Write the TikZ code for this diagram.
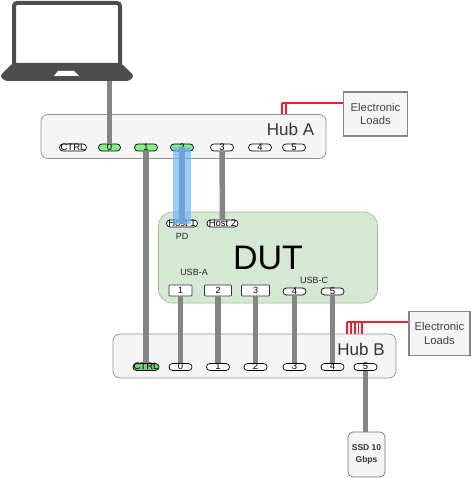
\documentclass[tikz,border=0pt]{standalone}
\usepackage{fontspec}
\setmainfont{Liberation Sans}
\usepackage{xcolor}
\usetikzlibrary{arrows.meta,positioning,calc}
\definecolor{hubfill}{HTML}{F5F5F5}
\definecolor{hubline}{HTML}{909090}
\definecolor{dutfill}{HTML}{D5E8D4}
\definecolor{dutline}{HTML}{9CC28C}
\definecolor{laptopgray}{HTML}{4D4D4D}
\definecolor{cablegray}{HTML}{858585}
\definecolor{portgreen}{HTML}{88F088}
\definecolor{loadred}{HTML}{F02030}
\definecolor{bandblue}{HTML}{66B2FF}

\begin{document}
\begin{tikzpicture}[
  x=1pt, y=-1pt,
  hub/.style={rectangle, draw=hubline, line width=0.7pt, fill=hubfill, rounded corners=7pt, minimum width=#1, minimum height=44pt, inner sep=0pt},
  port/.style={rectangle, draw=black, line width=0.7pt, fill=white, rounded corners=3.4pt, minimum width=#1, minimum height=7pt,
               inner sep=0pt, text height=5.5pt, text depth=0pt, font=\fontsize{9.5}{10}\selectfont, text=black},
  port/.default=23pt,
  sq/.style={rectangle, draw=black!80, line width=0.7pt, fill=white, rounded corners=0.8pt, minimum width=#1, minimum height=11pt,
             inner sep=0pt, font=\fontsize{9}{10}\selectfont},
  loads/.style={rectangle, draw=cablegray, line width=1.3pt, fill=hubfill, minimum width=#1, minimum height=44pt,
                inner sep=0pt, align=center, font=\fontsize{11.3}{13.5}\selectfont, text=black!75},
  cable/.style={draw=cablegray, line width=5.5pt},
  redline/.style={draw=loadred, line width=1.2pt},
  small/.style={inner sep=0pt, font=\fontsize{9}{10}\selectfont, text=black!85},
]
  \useasboundingbox (0,0) rectangle (470,478);

  % Laptop
  \draw[laptopgray, line width=4pt, fill=white, rounded corners=3pt] (14,66) -- (14,3) -- (120,3) -- (120,66);
  \fill[laptopgray, rounded corners=2.5pt] (13,63) -- (121,63) -- (134,76) -- (129,81) -- (5,81) -- (0,76) -- cycle;
  \fill[white] (58,71) -- (74,71) -- (79,76) -- (54,76) -- cycle;
  \coordinate (laptop) at (109.5,81);

  % Hub A
  \node[hub=285pt] (huba) at (183.5,136.5) {};
  \node[font=\fontsize{17}{20}\selectfont, text=black!80, inner sep=0pt] (hubalabel) at (290.5,129) {Hub A};
  \node[port=27pt] (actrl) at (73,147.5) {CTRL};
  \node[port=22pt, fill=portgreen] (a0) at (109.5,147.5) {0};
  \node[port, fill=portgreen] (a1) at (146,147.5) {1};
  \node[port, fill=portgreen] (a2) at (182,147.5) {2};
  \node[port] (a3) at (222,147.5) {3};
  \node[port] (a4) at (260,147.5) {4};
  \node[port] (a5) at (294,147.5) {5};

  % Loads of hub A
  \node[loads=64pt] (loadsa) at (375.5,114) {Electronic\\Loads};
  \coordinate (ra0) at (282,103);
  \coordinate (ra1) at (286,103);
  \draw[redline] (ra0) -- (loadsa.west |- ra0);
  \draw[redline] (ra0) -- (ra0 |- huba.north);
  \draw[redline] (ra1) -- (ra1 |- huba.north);

  % DUT
  \node[rectangle, draw=dutline, line width=0.7pt, fill=dutfill, rounded corners=14pt, minimum width=219pt, minimum height=91pt, inner sep=0pt] (dut) at (268,257.5) {};
  \node[font=\fontsize{34}{36}\selectfont, inner sep=0pt] (dutlabel) at (268,258) {DUT};
  \node[port=31pt] (h1) at (182,223.5) {Host 1};
  \node[port=31pt] (h2) at (222.5,223.5) {Host 2};
  \node[small] (pd) at (182,236.5) {PD};
  \node[small] (usba) at (194,272) {USB-A};
  \node[small] (usbc) at (314,280.5) {USB-C};
  \node[sq=23pt] (d1) at (180.5,290.5) {1};
  \node[sq=27pt] (d2) at (218,290.5) {2};
  \node[sq=28pt] (d3) at (255.5,290.5) {3};
  \node[port] (d4) at (294.5,291.5) {4};
  \node[port] (d5) at (332.5,291.5) {5};

  % Hub B
  \node[hub=283pt] (hubb) at (254.5,356) {};
  \node[font=\fontsize{17}{20}\selectfont, text=black!80, inner sep=0pt] (hubblabel) at (361,349) {Hub B};
  \node[port=26pt, fill=portgreen!85!black] (bctrl) at (146,367) {CTRL};
  \node[port] (b0) at (180.5,367) {0};
  \node[port] (b1) at (218,367) {1};
  \node[port] (b2) at (255.5,367) {2};
  \node[port] (b3) at (294.5,367) {3};
  \node[port] (b4) at (332.5,367) {4};
  \node[port] (b5) at (365.5,367) {5};

  % Loads of hub B
  \node[loads=61pt] (loadsb) at (439.5,333.5) {Electronic\\Loads};
  \coordinate (rb0) at (347,322);
  \coordinate (rb1) at (351,322);
  \coordinate (rb2) at (355,322);
  \coordinate (rb3) at (358.5,322);
  \coordinate (rb4) at (362,322);
  \draw[redline] (rb0) -- (loadsb.west |- rb0);
  \draw[redline] (rb0) -- (rb0 |- hubb.north);
  \draw[redline] (rb1) -- (rb1 |- hubb.north);
  \draw[redline] (rb2) -- (rb2 |- hubb.north);
  \draw[redline] (rb3) -- (rb3 |- hubb.north);
  \draw[redline] (rb4) -- (rb4 |- hubb.north);

  % SSD
  \node[rectangle, draw=black!55, line width=0.7pt, fill=hubfill, rounded corners=5pt, minimum width=37pt, minimum height=45pt, inner sep=0pt,
        align=center, font=\fontsize{8.5}{11.5}\selectfont\bfseries, text=black!80] (ssd) at (366.5,454.5) {SSD 10\\Gbps};

  % Cables
  \draw[cable] (laptop) -- (a0);
  \draw[cable] (a1) -- (bctrl);
  \draw[cable] (a2.center) -- (h1.center);
  \draw[cable] (a3) -- (h2);
  \draw[cable] (d1) -- (b0);
  \draw[cable] (d2) -- (b1);
  \draw[cable] (d3) -- (b2);
  \draw[cable] (d4) -- (b3);
  \draw[cable] (d5) -- (b4);
  \draw[cable] (b5) -- (b5 |- ssd.north);

  % PD band
  \draw[draw=bandblue, line width=18pt, opacity=0.65] (a2.center) -- (h1.center);
\end{tikzpicture}
\end{document}
